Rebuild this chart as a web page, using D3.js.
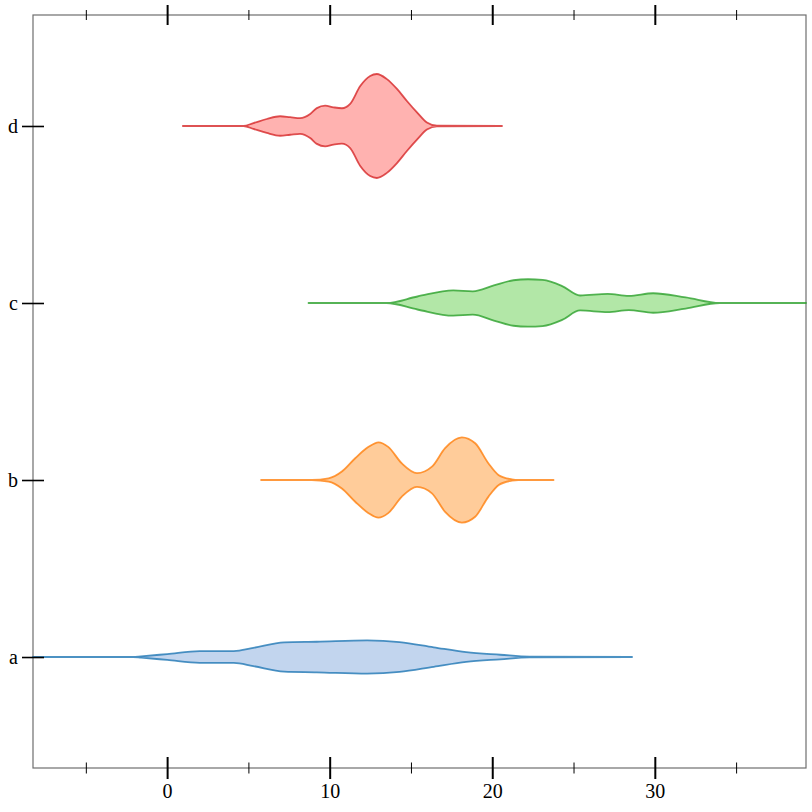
<!DOCTYPE html>
<html>
<head>
<meta charset="utf-8">
<script src="https://cdn.jsdelivr.net/npm/d3@7"></script>
<style>
  html, body { margin: 0; padding: 0; background: #fff; }
  svg { display: block; }
  text { font-family: "Liberation Serif", "Times New Roman", serif; }
</style>
</head>
<body>
<div id="chart"></div>
<script>
// ---- data ----
const categories = ["a", "b", "c", "d"];

// sample positions along the value axis and the estimated density there
const aPos = [-8.25, -2.1, -1.6, 0, 2.0, 4.1, 5.3, 7.2, 9.2, 12.3, 14.3, 16.4, 18.4, 20.5, 22.3, 28.6];
const aDen = [0, 0, 0.002, 0.009, 0.018, 0.018, 0.028, 0.045, 0.047, 0.051, 0.046, 0.030, 0.015, 0.007, 0.001, 0];

const bPos = [5.78, 8.9, 9.93, 10.75, 11.57, 12.39, 13.0, 13.6, 14.44, 15.37, 16.29, 17.1, 18.13, 18.95, 19.77, 20.4, 21.2, 21.6, 23.77];
const bDen = [0, 0, 0.005, 0.026, 0.067, 0.102, 0.116, 0.102, 0.051, 0.021, 0.041, 0.098, 0.131, 0.113, 0.051, 0.015, 0.002, 0, 0];

const cPos = [8.7, 13.5, 15.4, 17.6, 18.8, 20.1, 21.3, 22.2, 23.1, 24.3, 25.4, 27.1, 28.4, 29.9, 31.9, 34.0, 39.3];
const cDen = [0, 0, 0.020, 0.039, 0.036, 0.054, 0.070, 0.073, 0.071, 0.052, 0.023, 0.028, 0.022, 0.030, 0.017, 0, 0];

const dPos = [0.97, 4.0, 4.7, 5.31, 6.13, 6.95, 7.57, 8.18, 8.8, 9.21, 9.72, 10.23, 10.75, 11.26, 11.88, 12.49, 12.9, 13.5, 14.14, 14.75, 15.37, 15.98, 16.6, 20.6];
const dDen = [0, 0, 0, 0.009, 0.0215, 0.030, 0.027, 0.024, 0.037, 0.055, 0.0625, 0.0575, 0.0545, 0.068, 0.123, 0.154, 0.160, 0.145, 0.114, 0.077, 0.042, 0.011, 0.001, 0];

const majorTicks = [0, 10, 20, 30];
const minorTicks = [-5, 5, 15, 25, 35];

const strokeColors = ["#1f77b4", "#ff7f0e", "#2ca02c", "#d62728"];
const fillColors   = ["#aec7e8", "#ffbb78", "#98df8a", "#ff9896"];

// ---- build ----
const series = [
  { cat: "a", pos: aPos, den: aDen },
  { cat: "b", pos: bPos, den: bDen },
  { cat: "c", pos: cPos, den: cDen },
  { cat: "d", pos: dPos, den: dDen }
];

const W = 812, H = 812;
const margin = { top: 15, right: 6, bottom: 44, left: 33 };
const iw = W - margin.left - margin.right;
const ih = H - margin.top - margin.bottom;

const svg = d3.select("#chart").append("svg")
  .attr("width", W).attr("height", H);

const g = svg.append("g").attr("transform", `translate(${margin.left},${margin.top})`);

const allPos = series.flatMap(s => s.pos);
const x = d3.scaleLinear().domain(d3.extent(allPos)).range([0, iw]);
const y = d3.scalePoint().domain(categories).range([ih, 0]).padding(0.627);
const w = d3.scaleLinear().domain([0, 0.16]).range([0, 52]);
const color = d3.scaleOrdinal().domain(categories).range(strokeColors);
const fill = d3.scaleOrdinal().domain(categories).range(fillColors);

// frame
g.append("rect")
  .attr("x", 0).attr("y", 0).attr("width", iw).attr("height", ih)
  .attr("fill", "none").attr("stroke", "#6e6e6e").attr("stroke-width", 1.2);

// violins
series.forEach(s => {
  const pts = s.pos.map((p, i) => [p, s.den[i]]);
  const cy = y(s.cat);
  const area = d3.area()
    .x(d => x(d[0]))
    .y0(d => cy - w(d[1]))
    .y1(d => cy + w(d[1]))
    .curve(d3.curveMonotoneX);
  g.append("path")
    .datum(pts)
    .attr("d", area)
    .attr("fill", fill(s.cat))
    .attr("fill-opacity", 0.75)
    .attr("stroke", color(s.cat))
    .attr("stroke-opacity", 0.8)
    .attr("stroke-width", 1.8)
    .attr("stroke-linejoin", "round");
});

// axes
function styleTicks(sel, half, width, vertical) {
  sel.select(".domain").remove();
  sel.selectAll(".tick line")
    .attr("stroke", "#000")
    .attr("stroke-width", width);
  if (vertical) {
    sel.selectAll(".tick line").attr("y1", -half).attr("y2", half);
  } else {
    sel.selectAll(".tick line").attr("x1", -half).attr("x2", half);
  }
}

const bottomMajor = g.append("g").attr("transform", `translate(0,${ih})`)
  .call(d3.axisBottom(x).tickValues(majorTicks).tickSize(11).tickFormat(d3.format("d")));
styleTicks(bottomMajor, 11, 2, true);
bottomMajor.selectAll(".tick text")
  .attr("y", 16)
  .attr("font-size", 20)
  .attr("font-family", "Liberation Serif, serif")
  .attr("fill", "#000");

const bottomMinor = g.append("g").attr("transform", `translate(0,${ih})`)
  .call(d3.axisBottom(x).tickValues(minorTicks).tickSize(5.5).tickFormat(""));
styleTicks(bottomMinor, 5.5, 1, true);

const topMajor = g.append("g")
  .call(d3.axisTop(x).tickValues(majorTicks).tickSize(11).tickFormat(""));
styleTicks(topMajor, 10, 2, true);

const topMinor = g.append("g")
  .call(d3.axisTop(x).tickValues(minorTicks).tickSize(5.5).tickFormat(""));
styleTicks(topMinor, 5, 1, true);

const left = g.append("g")
  .call(d3.axisLeft(y).tickSize(11));
styleTicks(left, 11, 1.6, false);
left.selectAll(".tick text")
  .attr("x", -15)
  .attr("font-size", 20)
  .attr("font-family", "Liberation Serif, serif")
  .attr("fill", "#000");
</script>
</body>
</html>
